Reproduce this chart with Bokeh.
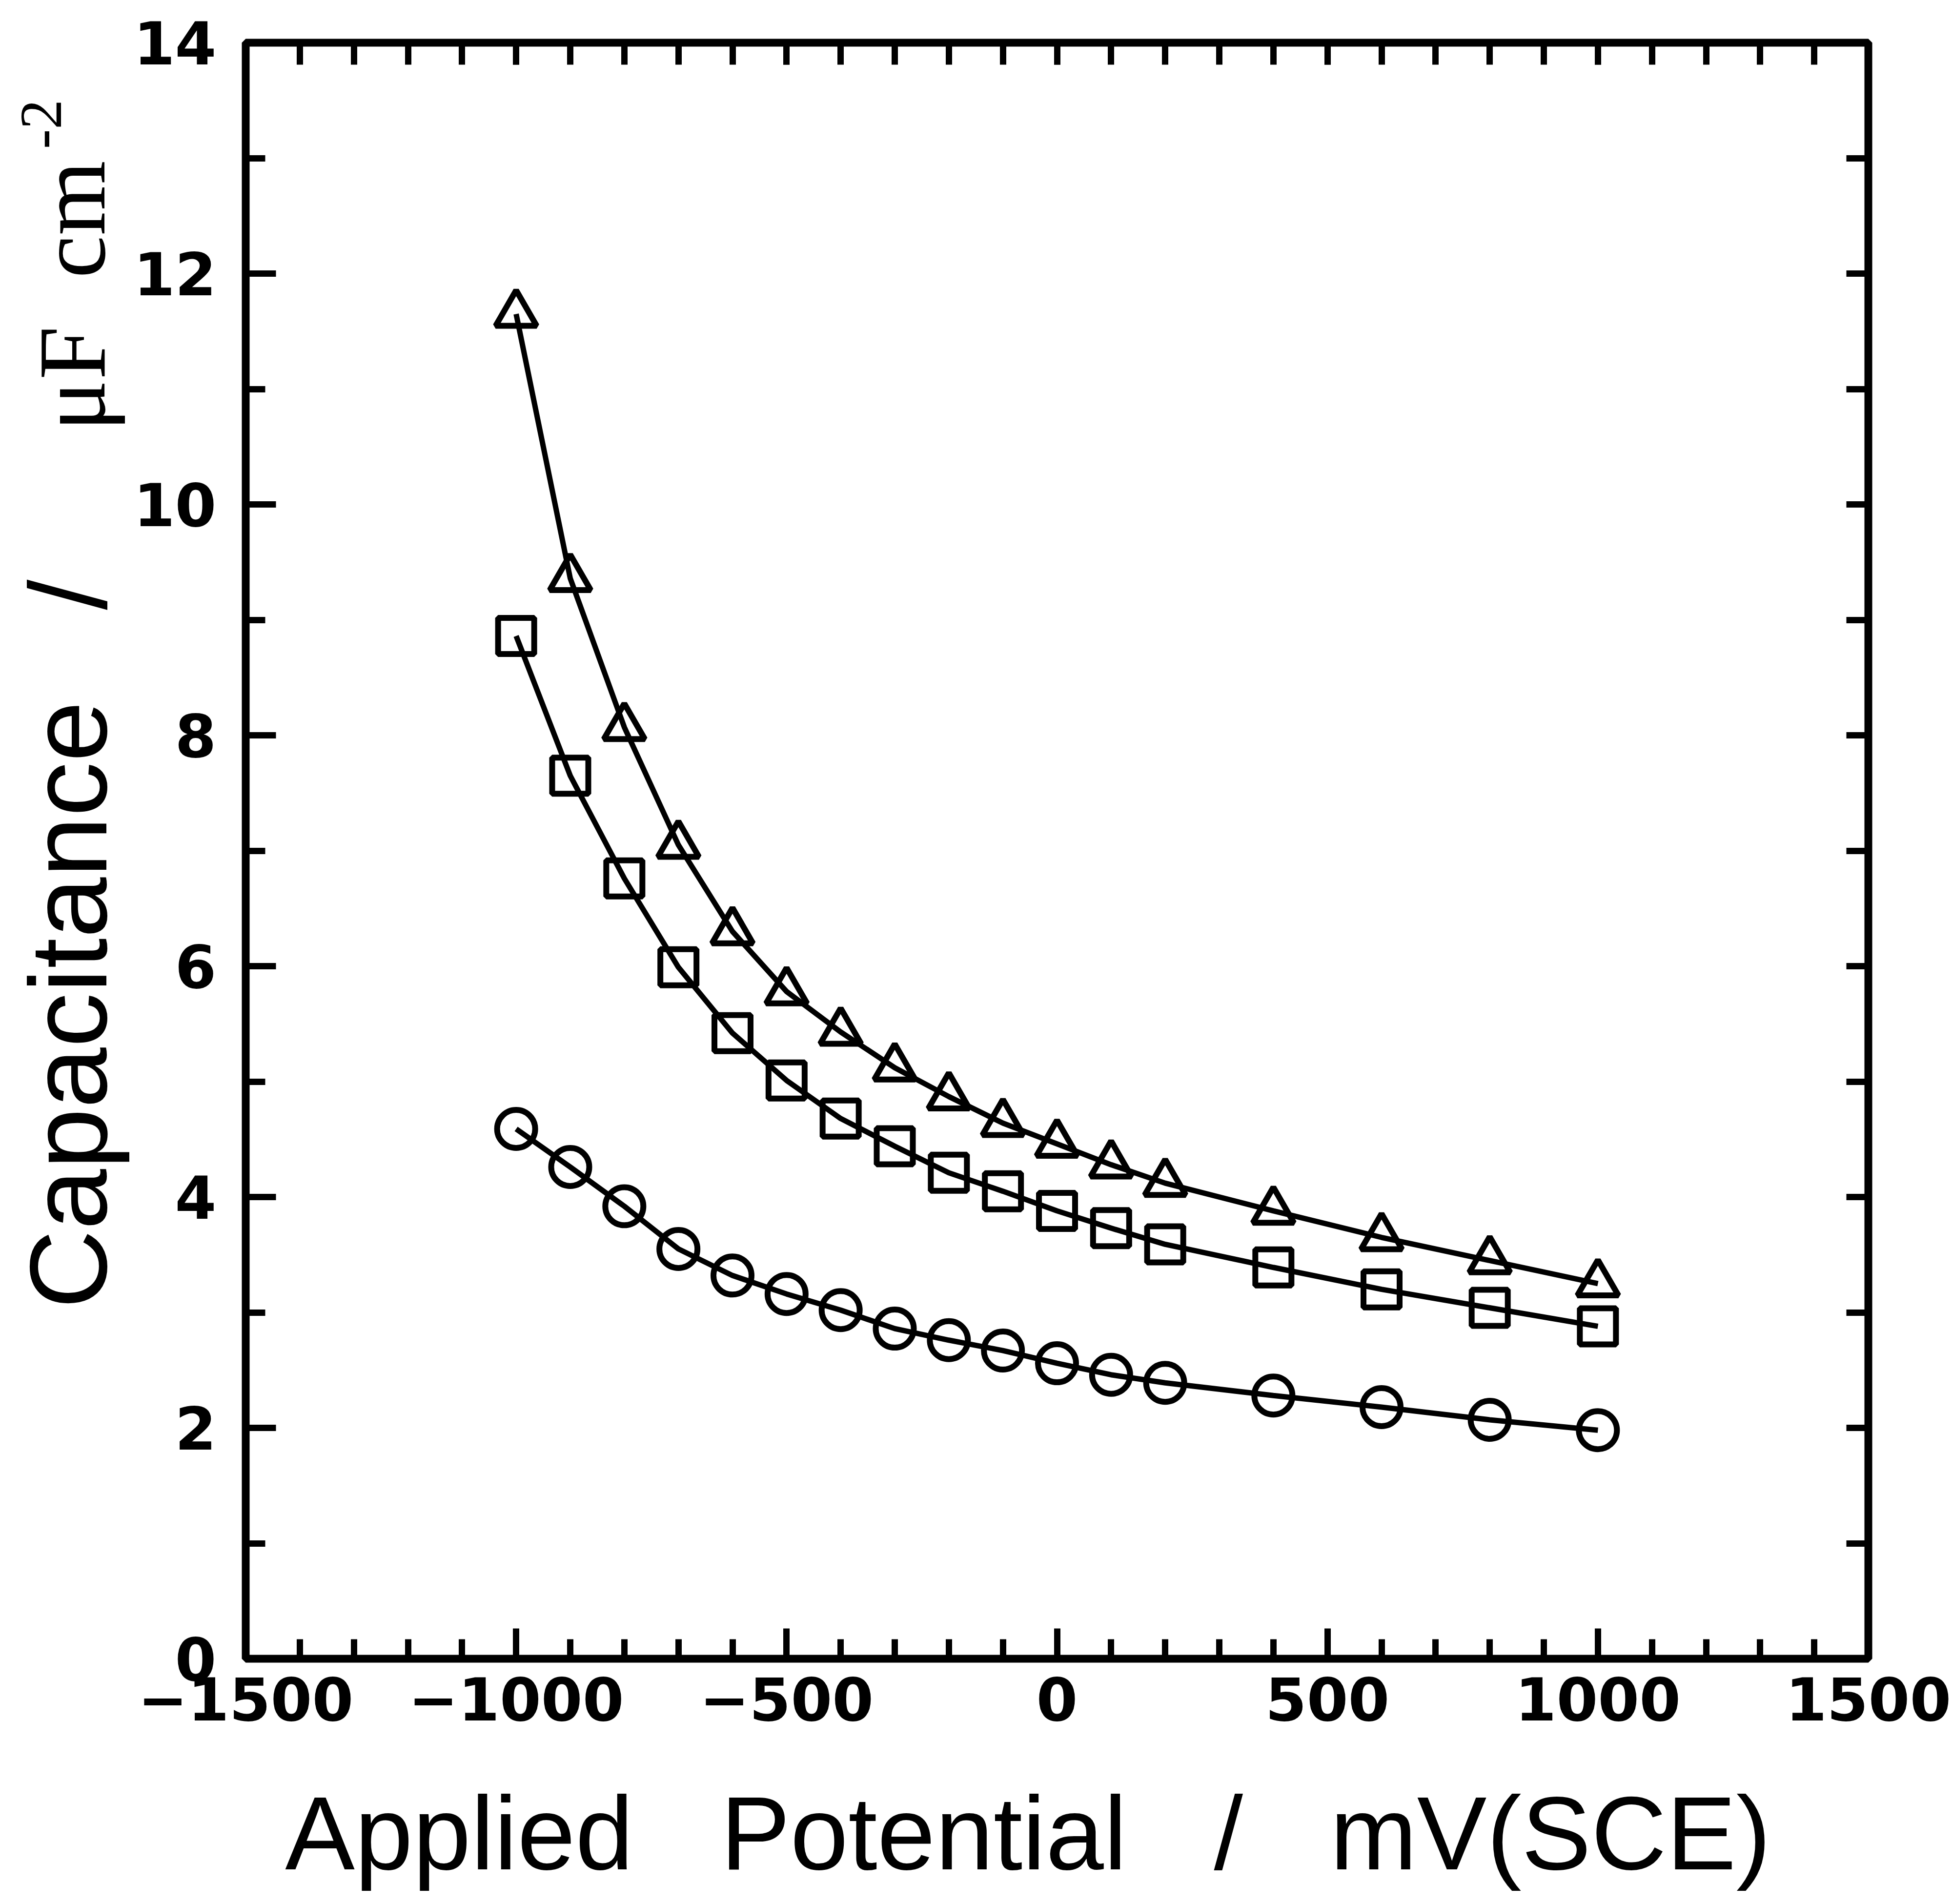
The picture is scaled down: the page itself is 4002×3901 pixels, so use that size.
import math
from bokeh.plotting import figure
from bokeh.layouts import row
from bokeh.models import FixedTicker, LinearAxis, Range1d
from bokeh.core.properties import value
from bokeh.embed import file_html
from bokeh.resources import INLINE

# ---------------- data ----------------
potential = [-1000, -900, -800, -700, -600, -500, -400, -300, -200, -100,
             0, 100, 200, 400, 600, 800, 1000]
cap_triangle = [11.65, 9.36, 8.07, 7.05, 6.30, 5.78, 5.43, 5.12, 4.87, 4.64,
                4.46, 4.28, 4.12, 3.88, 3.65, 3.45, 3.25]
cap_square = [8.86, 7.65, 6.76, 5.99, 5.42, 5.01, 4.68, 4.44, 4.21, 4.05,
              3.88, 3.73, 3.59, 3.39, 3.20, 3.04, 2.88]
cap_circle = [4.59, 4.26, 3.92, 3.55, 3.32, 3.16, 3.02, 2.86, 2.76, 2.67,
              2.56, 2.46, 2.39, 2.28, 2.18, 2.07, 1.98]

x_ticks = [-1500, -1000, -500, 0, 500, 1000, 1500]
x_tick_labels = ["\u22121500", "\u22121000", "\u2212500", "0", "500", "1000", "1500"]
x_minor_ticks = list(range(-1500, 1501, 100))
y_ticks = [0, 2, 4, 6, 8, 10, 12, 14]
y_tick_labels = ["0", "2", "4", "6", "8", "10", "12", "14"]
y_minor_ticks = [1, 3, 5, 7, 9, 11, 13]
y_all_ticks = list(range(0, 15))

NB = "\u00a0"
x_title = "Applied" + NB * 3 + "Potential" + NB * 3 + "/" + NB * 3 + "mV(SCE)" + NB * 2
y_title_sans = "Capacitance" + NB * 3 + "/"
y_title_serif = "\u03bcF" + NB * 2 + "cm"
y_title_sup = "-2"

# ---------------- layout sizes ----------------
TITLE_W = 270          # strip on the left that carries the y title
FRAME_W, FRAME_H = 3325, 3311
B_LEFT, B_RIGHT, B_TOP, B_BOTTOM = 500 - TITLE_W, 170, 87, 496
FIG_H = B_TOP + FRAME_H + B_BOTTOM

# ---------------- main plot ----------------
p = figure(frame_width=FRAME_W, frame_height=FRAME_H,
           x_range=Range1d(-1500, 1500), y_range=Range1d(0, 14),
           output_backend="svg", toolbar_location=None,
           min_border_left=B_LEFT, min_border_right=B_RIGHT,
           min_border_top=B_TOP, min_border_bottom=B_BOTTOM,
           align="start")
p.background_fill_color = "white"
p.border_fill_color = "white"
p.grid.visible = False
p.outline_line_color = "black"
p.outline_line_width = 16

TICK_FONT = "DejaVu Sans"
TICK_SIZE = "122px"

# bottom axis
xa = p.xaxis[0]
xa.ticker = FixedTicker(ticks=x_ticks, minor_ticks=x_minor_ticks)
xa.major_label_overrides = dict(zip(x_ticks, x_tick_labels))
xa.axis_line_color = None
xa.major_tick_in = 62
xa.major_tick_out = 0
xa.minor_tick_in = 40
xa.minor_tick_out = 0
xa.major_tick_line_width = 13
xa.minor_tick_line_width = 13
xa.major_tick_line_color = "black"
xa.minor_tick_line_color = "black"
xa.major_label_text_font = TICK_FONT
xa.major_label_text_font_style = "bold"
xa.major_label_text_font_size = TICK_SIZE
xa.major_label_text_color = "black"
xa.major_label_standoff = 37
xa.axis_label = x_title
xa.axis_label_text_font = "Liberation Sans"
xa.axis_label_text_font_style = "normal"
xa.axis_label_text_font_size = "214px"
xa.axis_label_text_color = "black"
xa.axis_label_standoff = 108

# left axis
ya = p.yaxis[0]
ya.ticker = FixedTicker(ticks=y_ticks, minor_ticks=y_minor_ticks)
ya.major_label_overrides = dict(zip(y_ticks, y_tick_labels))
ya.axis_line_color = None
ya.major_tick_in = 62
ya.major_tick_out = 0
ya.minor_tick_in = 40
ya.minor_tick_out = 0
ya.major_tick_line_width = 13
ya.minor_tick_line_width = 13
ya.major_tick_line_color = "black"
ya.minor_tick_line_color = "black"
ya.major_label_text_font = TICK_FONT
ya.major_label_text_font_style = "bold"
ya.major_label_text_font_size = TICK_SIZE
ya.major_label_text_color = "black"
ya.major_label_standoff = 60
ya.major_label_orientation = "horizontal"

# top and right axes: ticks only
top = LinearAxis(ticker=FixedTicker(ticks=x_ticks, minor_ticks=x_minor_ticks))
right = LinearAxis(ticker=FixedTicker(ticks=y_all_ticks, minor_ticks=[]))
for ax, ticks in ((top, x_ticks), (right, y_all_ticks)):
    ax.axis_line_color = None
    ax.major_tick_in = 45
    ax.major_tick_out = 0
    ax.minor_tick_in = 45
    ax.minor_tick_out = 0
    ax.major_tick_line_width = 13
    ax.minor_tick_line_width = 13
    ax.major_tick_line_color = "black"
    ax.minor_tick_line_color = "black"
    ax.major_label_overrides = {t: "" for t in ticks}
    ax.major_label_text_color = None
    ax.major_label_text_font_size = "1px"
    ax.major_label_standoff = 0
p.add_layout(top, "above")
p.add_layout(right, "right")

# data
for ys, mk, sz in ((cap_triangle, "triangle", 84),
                   (cap_square, "square", 74),
                   (cap_circle, "circle", 78)):
    p.line(potential, ys, line_color="black", line_width=11)
    p.scatter(potential, ys, marker=mk, size=sz, fill_color=None,
              line_color="black", line_width=12)

# ---------------- y title strip (mixed fonts, reads bottom-to-top) ----------------
t = figure(frame_width=TITLE_W, frame_height=FIG_H,
           x_range=Range1d(0, TITLE_W), y_range=Range1d(0, FIG_H),
           x_axis_type=None, y_axis_type=None,
           output_backend="svg", toolbar_location=None, min_border=0,
           align="start")
t.background_fill_color = "white"
t.border_fill_color = "white"
t.outline_line_color = None
t.grid.visible = False
t.text(x=[139], y=[FIG_H - 1847], text=[y_title_sans], angle=math.pi / 2,
       text_align="center", text_baseline="middle",
       text_font=value("Liberation Sans"), text_font_size=value("224px"),
       text_color="black")
t.text(x=[147], y=[FIG_H - 519], text=[y_title_serif], angle=math.pi / 2,
       text_align="center", text_baseline="middle",
       text_font=value("Liberation Serif"), text_font_size=value("197px"),
       text_color="black")
t.text(x=[84], y=[FIG_H - 167], text=[y_title_sup], angle=math.pi / 2,
       text_align="center", text_baseline="middle",
       text_font=value("Liberation Serif"), text_font_size=value("122px"),
       text_color="black")

layout = row(t, p, spacing=0)
open("out.html", "w").write(file_html(layout, INLINE))
